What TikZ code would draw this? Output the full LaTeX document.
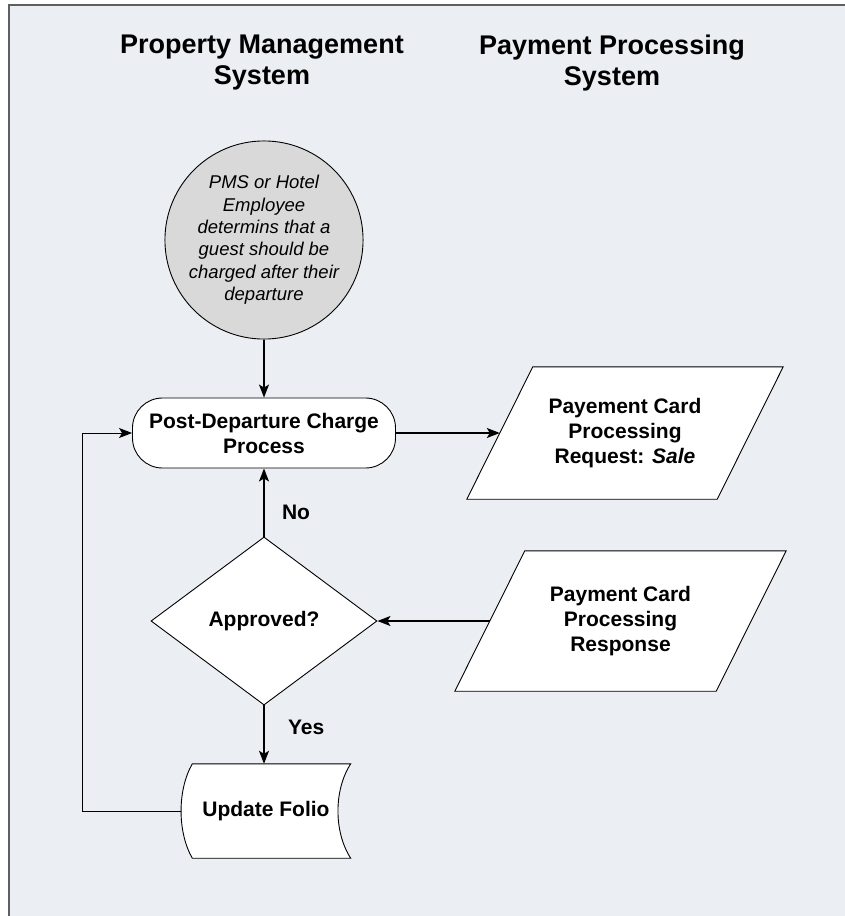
\documentclass[tikz,border=0pt]{standalone}
\usepackage{fontspec}
\setmainfont{Liberation Sans}
\usetikzlibrary{shapes.geometric,arrows.meta,calc}
\definecolor{canvas}{HTML}{EBEFF3}
\definecolor{framegray}{HTML}{5F5F5F}
\definecolor{startgray}{HTML}{D9D9D9}
\pgfdeclarelayer{paper}
\pgfdeclarelayer{bg}
\pgfsetlayers{paper,bg,main}

\begin{document}
\begin{tikzpicture}[x=1pt,y=-1pt,
  lbl/.style={font=\fontsize{21}{25}\selectfont\bfseries, align=center},
  ttl/.style={font=\fontsize{27}{31}\selectfont\bfseries, align=center},
  outline/.style={draw=black, line width=0.9pt, fill=white},
  flow/.style={line width=1.4pt, -{Stealth[length=13pt,width=10pt,inset=3pt]}},
  loopflow/.style={line width=1pt, -{Stealth[length=13pt,width=10pt,inset=3pt]}}
]
\useasboundingbox (0,0) rectangle (845,916);

% canvas and frame
\begin{pgfonlayer}{paper}
  \fill[canvas] (9,5) rectangle (845,916);
  \draw[framegray, line width=2pt] (9,916) -- (9,5) -- (845,5);
\end{pgfonlayer}

% lane titles
\node[ttl] (pms-title) at (262,63) {Property Management\\System};
\node[ttl] (pps-title) at (612,63) {Payment Processing\\System};

% start event
\node[circle, outline, fill=startgray, minimum size=177pt, inner sep=0pt, align=center,
      font=\fontsize{18.5}{22.4}\selectfont\itshape] (trigger) at (264,240)
  {PMS or Hotel\\Employee\\determins that a\\guest should be\\charged after their\\departure};

% process
\node[rectangle, rounded corners=30pt, outline, minimum width=263pt, minimum height=70pt, lbl]
  (pdc) at (264,433) {Post-Departure Charge\\Process};

% decision
\node[diamond, outline, minimum width=226pt, minimum height=168pt, inner sep=0pt, lbl]
  (approved) at (264,621) {Approved?};

% data (parallelograms)
\node[lbl, minimum width=250pt, minimum height=132pt] (req) at (625,433)
  {Payement Card\\Processing\\Request: \textit{Sale}};
\node[lbl, minimum width=261pt, minimum height=140pt] (resp) at (620.5,621)
  {Payment Card\\Processing\\Response};

% stored data
\node[lbl, minimum width=169pt, minimum height=94pt] (folio) at (266,811) {Update Folio};

\begin{pgfonlayer}{bg}
  \draw[outline] ($(req.north west)+(33,0)$) -- ($(req.north east)+(33,0)$)
    -- ($(req.south east)+(-33,0)$) -- ($(req.south west)+(-33,0)$) -- cycle;
  \draw[outline] ($(resp.north west)+(35,0)$) -- ($(resp.north east)+(35,0)$)
    -- ($(resp.south east)+(-35,0)$) -- ($(resp.south west)+(-35,0)$) -- cycle;
  \draw[outline] ($(folio.north west)+(11,0)$) -- (folio.north east)
    .. controls ($(folio.east)+(-17,-21)$) and ($(folio.east)+(-17,21)$) .. (folio.south east)
    -- ($(folio.south west)+(11,0)$)
    .. controls ($(folio.west)+(-4,21)$) and ($(folio.west)+(-4,-21)$) .. ($(folio.north west)+(11,0)$)
    -- cycle;
\end{pgfonlayer}

% connectors
\draw[flow] (trigger.south) -- (pdc.north);
\draw[flow] (pdc.east) -- (req.west);
\draw[flow] (resp.west) -- (approved.east);
\draw[flow] (approved.north) -- node[pos=0.36, anchor=west, xshift=14pt, lbl] (no-lbl) {No} (pdc.south);
\draw[flow] (approved.south) -- node[pos=0.37, anchor=west, xshift=20pt, lbl] (yes-lbl) {Yes} (approved.south |- folio.north);
\draw[loopflow] (folio.west) -- ++(-99,0) |- (pdc.west);
\end{tikzpicture}
\end{document}
